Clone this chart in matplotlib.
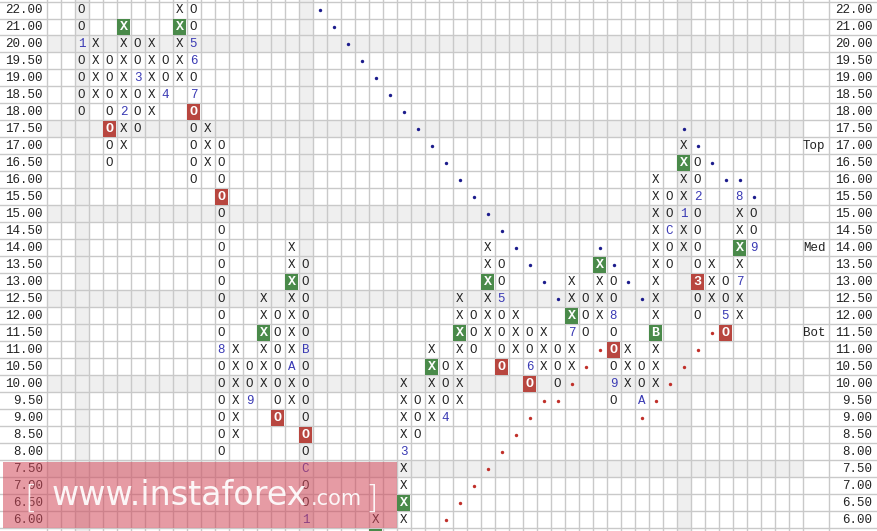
import matplotlib.pyplot as plt
from matplotlib.patches import Rectangle

# niveles de precio, una fila por nivel (arriba caja de 1.0, abajo de 0.5)
price_levels = [22.0, 21.0, 20.0, 19.5, 19.0, 18.5, 18.0, 17.5, 17.0, 16.5, 16.0,
                15.5, 15.0, 14.5, 14.0, 13.5, 13.0, 12.5, 12.0, 11.5, 11.0,
                10.5, 10.0, 9.5, 9.0, 8.5, 8.0, 7.5, 7.0, 6.5, 6.0, 5.5]
visible_min = 6.0  # la fila 5.50 queda casi fuera de la imagen

# columnas del grafico: (columna, tipo, maximo, minimo)
columns = [
    (2, 'O', 22.0, 18.0), (3, 'X', 20.0, 18.5), (4, 'O', 19.5, 16.5),
    (5, 'X', 21.0, 17.0), (6, 'O', 20.0, 17.5), (7, 'X', 20.0, 18.0),
    (8, 'O', 19.5, 18.5), (9, 'X', 22.0, 19.0), (10, 'O', 22.0, 16.0),
    (11, 'X', 17.5, 16.5), (12, 'O', 17.0, 8.0), (13, 'X', 11.0, 8.5),
    (14, 'O', 10.5, 9.5), (15, 'X', 12.5, 10.0), (16, 'O', 12.0, 9.0),
    (17, 'X', 14.0, 9.5), (18, 'O', 13.5, 6.0), (23, 'X', 6.0, 5.5),
    (25, 'X', 10.0, 6.0), (26, 'O', 9.5, 8.5), (27, 'X', 11.0, 9.0),
    (28, 'O', 10.5, 9.0), (29, 'X', 12.5, 9.5), (30, 'O', 12.0, 11.0),
    (31, 'X', 14.0, 11.5), (32, 'O', 13.5, 10.5), (33, 'X', 12.0, 11.0),
    (34, 'O', 11.5, 10.0), (35, 'X', 11.5, 10.5), (36, 'O', 11.0, 10.0),
    (37, 'X', 13.0, 10.5), (38, 'O', 12.5, 11.5), (39, 'X', 13.5, 12.0),
    (40, 'O', 13.0, 9.5), (41, 'X', 11.0, 10.0), (42, 'O', 10.5, 9.5),
    (43, 'X', 16.0, 10.0), (44, 'O', 15.5, 13.5), (45, 'X', 17.0, 14.0),
    (46, 'O', 16.5, 12.0), (47, 'X', 13.5, 12.5), (48, 'O', 13.0, 11.5),
    (49, 'X', 15.5, 12.0), (50, 'O', 15.0, 14.0),
]

# marcas de mes (columna, precio, texto)
month_marks = [
    (2, 20.0, '1'), (5, 18.0, '2'), (6, 19.0, '3'), (8, 18.5, '4'),
    (10, 20.0, '5'), (10, 19.5, '6'), (10, 18.5, '7'), (12, 11.0, '8'),
    (14, 9.5, '9'), (17, 10.5, 'A'), (18, 11.0, 'B'), (18, 7.5, 'C'),
    (18, 6.0, '1'), (25, 8.0, '3'), (28, 9.0, '4'), (32, 12.5, '5'),
    (34, 10.5, '6'), (37, 11.5, '7'), (40, 12.0, '8'), (40, 10.0, '9'),
    (42, 9.5, 'A'), (43, 11.5, 'B'), (44, 14.5, 'C'), (45, 15.0, '1'),
    (46, 15.5, '2'), (46, 13.0, '3'), (48, 12.0, '5'), (49, 13.0, '7'),
    (49, 15.5, '8'), (50, 14.0, '9'),
]

green_boxes = [(5, 21.0), (9, 21.0), (15, 11.5), (17, 13.0), (23, 5.5),
               (25, 6.5), (27, 10.5), (29, 11.5), (31, 13.0), (37, 12.0),
               (39, 13.5), (43, 11.5), (45, 16.5), (49, 14.0)]
red_boxes = [(4, 17.5), (10, 18.0), (12, 15.5), (16, 9.0), (18, 8.5),
             (32, 10.5), (34, 10.0), (40, 11.0), (46, 13.0), (48, 11.5)]

# lineas de tendencia (puntos)
blue_dots = [(19, 22.0), (20, 21.0), (21, 20.0), (22, 19.5), (23, 19.0),
             (24, 18.5), (25, 18.0), (26, 17.5), (27, 17.0), (28, 16.5),
             (29, 16.0), (30, 15.5), (31, 15.0), (32, 14.5), (33, 14.0),
             (34, 13.5), (35, 13.0), (36, 12.5), (39, 14.0), (40, 13.5),
             (41, 13.0), (42, 12.5), (45, 17.5), (46, 17.0), (47, 16.5),
             (48, 16.0), (49, 16.0), (50, 15.5)]
red_dots = [(28, 6.0), (29, 6.5), (30, 7.0), (31, 7.5), (32, 8.0), (33, 8.5),
            (34, 9.0), (35, 9.5), (36, 9.5), (37, 10.0), (38, 10.5), (39, 11.0),
            (42, 9.0), (43, 9.5), (44, 10.0), (45, 10.5), (46, 11.0), (47, 11.5)]

shaded_rows = [20.0, 17.5, 15.0, 12.5, 10.0, 7.5]
shaded_cols = [2, 18, 45]
zone_labels = [('Top', 17.0), ('Med', 14.0), ('Bot', 11.5)]
n_cols = 54

# geometria en pixeles
W, H = 877, 531
GX0, CW = 46.5, 14.0   # inicio de la grilla y ancho de columna
GY0, RH = 1.5, 17.0    # inicio de la grilla y alto de fila


def px_x(px):
    return (px - GX0) / CW - 0.5


def px_y(py):
    return (py - GY0) / RH - 0.5


row = {p: i for i, p in enumerate(price_levels)}
marks = {(c, p): t for c, p, t in month_marks}
boxes = {}
for c, p in green_boxes:
    boxes[(c, p)] = '#4a8a4a'
for c, p in red_boxes:
    boxes[(c, p)] = '#b8463f'

fig = plt.figure(figsize=(W / 100, H / 100), dpi=100)
ax = fig.add_axes([0, 0, 1, 1])
ax.set_xlim(px_x(0), px_x(W))
ax.set_ylim(px_y(H), px_y(0))
ax.axis('off')

grid_c = '#c9c9c9'
fill_c = '#efefef'
mono = 'Liberation Mono'

# filas y columnas sombreadas
for p in shaded_rows:
    ax.add_patch(Rectangle((-0.5, row[p] - 0.5), n_cols, 1, color=fill_c, lw=0, zorder=0))
for c in shaded_cols:
    ax.add_patch(Rectangle((c - 0.5, -5), 1, 50, color=fill_c, lw=0, zorder=0))

# grilla
for i in range(len(price_levels) + 1):
    ax.axhline(i - 0.5, color=grid_c, lw=1, zorder=1)
for c in range(n_cols + 1):
    ax.axvline(c - 0.5, color=grid_c, lw=1, zorder=1)
ax.axvline(px_x(828.5), color=grid_c, lw=1, zorder=1)

# etiquetas de precio a ambos lados
for p in price_levels:
    if p < visible_min:
        continue
    ax.text(px_x(43), row[p], '%.2f' % p, ha='right', va='center',
            fontsize=9, family=mono, color='#222222', zorder=3)
    ax.text(px_x(872.5), row[p], '%.2f' % p, ha='right', va='center',
            fontsize=9, family=mono, color='#222222', zorder=3)
for txt, p in zone_labels:
    ax.text(px_x(825.5), row[p], txt, ha='right', va='center',
            fontsize=9, family=mono, color='#222222', zorder=3)

# columnas X / O
for c, kind, hi, lo in columns:
    for p in price_levels:
        if p > hi or p < lo:
            continue
        r = row[p]
        txt = marks.get((c, p), kind)
        if (c, p) in boxes:
            ax.add_patch(Rectangle((c - 0.5 + 0.06, r - 0.5 + 0.05), 0.88, 0.92,
                                   color=boxes[(c, p)], lw=0, zorder=2))
            if p >= visible_min:
                ax.text(c, r, txt, ha='center', va='center', fontsize=9.5,
                        family=mono, fontweight='bold', color='white', zorder=3)
        elif (c, p) in marks:
            ax.text(c, r, txt, ha='center', va='center', fontsize=9,
                    family=mono, color='#3a3ab4', zorder=3)
        else:
            ax.text(c, r, txt, ha='center', va='center', fontsize=9,
                    family=mono, color='#222222', zorder=3)

# puntos de las lineas de tendencia
ax.scatter([c for c, p in blue_dots], [row[p] for c, p in blue_dots],
           s=6, color='#1c1c8c', zorder=3, lw=0)
ax.scatter([c for c, p in red_dots], [row[p] for c, p in red_dots],
           s=6, color='#c0302a', zorder=3, lw=0)

# marca de agua
fig.patches.append(Rectangle((3.3 / W, 3.5 / H), 393.4 / W, 66 / H, transform=fig.transFigure,
                             color='#d2495a', alpha=0.55, lw=0, zorder=10))
wm = dict(color='white', alpha=0.92, family='DejaVu Sans',
          va='baseline', ha='left', zorder=11)
fig.text(24 / W, 1 - 508 / H, '[', fontsize=23, fontweight='light', **wm)
fig.text(52 / W, 1 - 505 / H, 'www.instaforex', fontsize=24, **wm)
fig.text(311 / W, 1 - 505 / H, '.com', fontsize=15, **wm)
fig.text(365 / W, 1 - 508 / H, ']', fontsize=23, fontweight='light', **wm)

fig.savefig('out.png', dpi=100)
